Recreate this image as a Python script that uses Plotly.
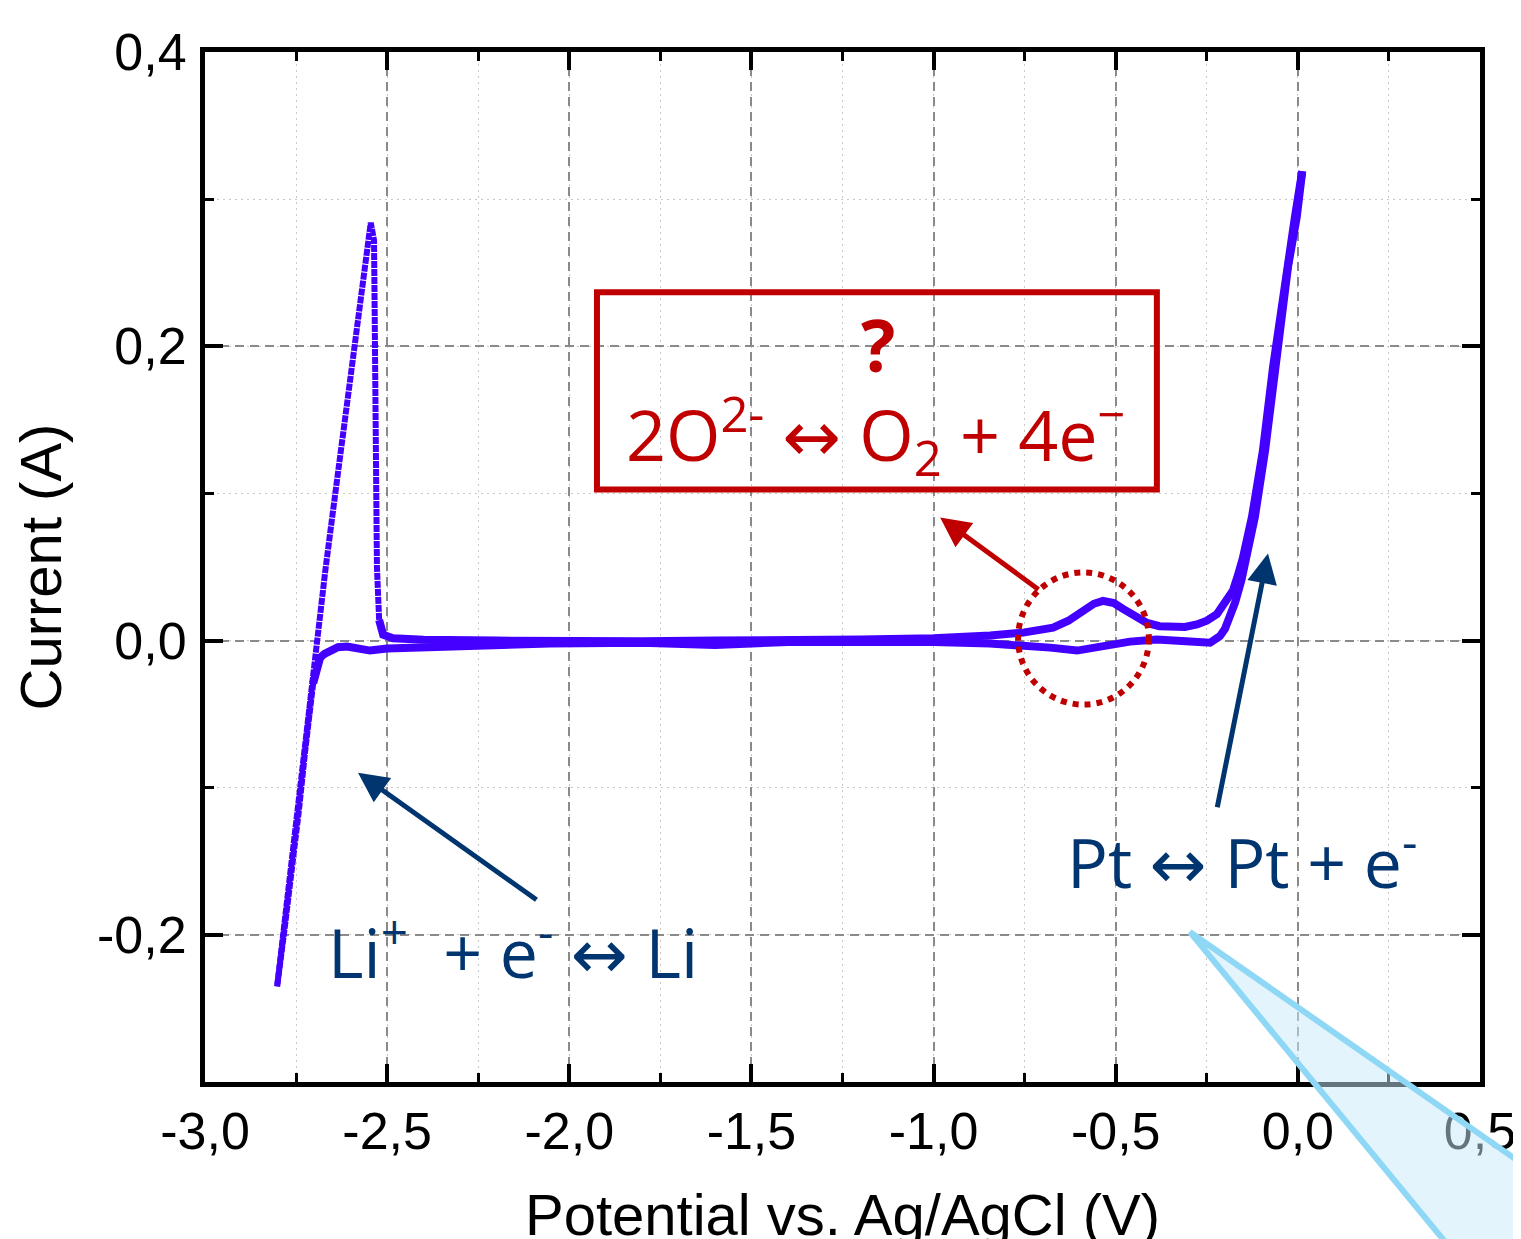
import plotly.graph_objects as go

# ---------------- data ----------------
# Li stripping ramp followed by the sharp current drop (anodic start)
strip_potential = [-2.802, -2.780, -2.758, -2.735, -2.712, -2.694, -2.670, -2.645, -2.620,
                   -2.595, -2.570, -2.555, -2.545, -2.536, -2.534, -2.532, -2.528, -2.522]
strip_current = [-0.235, -0.187, -0.139, -0.090, -0.040, 0.000, 0.047, 0.095, 0.143,
                 0.190, 0.238, 0.266, 0.284, 0.272, 0.200, 0.120, 0.050, 0.014]

# anodic (upper) branch towards positive potentials
anodic_potential = [-2.522, -2.511, -2.484, -2.400, -2.200, -2.000, -1.800, -1.600, -1.400,
                    -1.200, -1.000, -0.900, -0.845, -0.754, -0.672, -0.630, -0.590, -0.560,
                    -0.535, -0.505, -0.480, -0.445, -0.414, -0.380, -0.343, -0.310, -0.277,
                    -0.250, -0.222, -0.200, -0.178, -0.165, -0.151, -0.126, -0.096, -0.068,
                    -0.049, -0.030, -0.008, 0.012]
anodic_current = [0.014, 0.004, 0.0015, 0.0005, 0.0, -0.0005, -0.0005, 0.0, 0.0,
                  0.0008, 0.0015, 0.0025, 0.0034, 0.0054, 0.0088, 0.0135, 0.0200, 0.0250,
                  0.0270, 0.0255, 0.0215, 0.0160, 0.0120, 0.0098, 0.0088, 0.0092, 0.0110,
                  0.0135, 0.0180, 0.0250, 0.0340, 0.0440, 0.0560, 0.0840, 0.1290, 0.1860,
                  0.2200, 0.2540, 0.2880, 0.3190]

# cathodic (lower) branch back to negative potentials
cathodic_potential = [0.012, -0.003, -0.027, -0.044, -0.063, -0.090, -0.118, -0.137, -0.155,
                      -0.172, -0.186, -0.200, -0.214, -0.241, -0.296, -0.387, -0.461, -0.535,
                      -0.606, -0.680, -0.754, -0.845, -1.000, -1.200, -1.400, -1.600, -1.800,
                      -2.053, -2.418, -2.500, -2.547, -2.583, -2.610, -2.635, -2.657, -2.672,
                      -2.684, -2.693, -2.703]
cathodic_current = [0.3190, 0.288, 0.254, 0.220, 0.186, 0.129, 0.084, 0.061, 0.041,
                    0.026, 0.0156, 0.008, 0.003, -0.0015, -0.0007, 0.0007, -0.0007, -0.0034,
                    -0.0068, -0.0048, -0.0034, -0.0020, -0.0010, -0.0015, -0.0010, -0.0030, -0.0015,
                    -0.0020, -0.0040, -0.0054, -0.0068, -0.0054, -0.0040, -0.0045, -0.0068, -0.0090,
                    -0.0116, -0.0180, -0.0290]

# Li plating ramp at the negative end of the cathodic scan
plating_potential = [-2.703, -2.712, -2.725, -2.742, -2.760, -2.781, -2.802]
plating_current = [-0.0290, -0.0450, -0.0750, -0.1150, -0.1550, -0.1950, -0.2350]

x_tick_values = [-3.0, -2.5, -2.0, -1.5, -1.0, -0.5, 0.0, 0.5]
x_tick_labels = ["-3,0", "-2,5", "-2,0", "-1,5", "-1,0", "-0,5", "0,0", "0,5"]
y_tick_values = [-0.2, 0.0, 0.2, 0.4]
y_tick_labels = ["-0,2", "0,0", "0,2", "0,4"]

# ---------------- styling ----------------
CURVE = "#4400ff"
RED = "#c00000"
NAVY = "#00356f"
ARROW_FONT = "DejaVu Sans"

fig = go.Figure()
# dense (slow) branches – solid thick look
fig.add_trace(go.Scatter(
    x=anodic_potential, y=anodic_current, mode="lines",
    line=dict(color=CURVE, width=8), showlegend=False, hoverinfo="x+y"))
fig.add_trace(go.Scatter(
    x=cathodic_potential, y=cathodic_current, mode="lines",
    line=dict(color=CURVE, width=8), showlegend=False, hoverinfo="x+y"))
# sparse (fast) Li plating / stripping parts – thinner beaded look
fig.add_trace(go.Scatter(
    x=plating_potential, y=plating_current, mode="lines",
    line=dict(color=CURVE, width=6, dash="7px,1px"), showlegend=False, hoverinfo="x+y"))
fig.add_trace(go.Scatter(
    x=strip_potential, y=strip_current, mode="lines",
    line=dict(color=CURVE, width=6, dash="7px,1px"), showlegend=False, hoverinfo="x+y"))

axis_common = dict(
    showline=True, linewidth=5, linecolor="black", mirror="allticks",
    ticks="inside", ticklen=18, tickwidth=4, tickcolor="black",
    showgrid=True, gridcolor="#8a8a8a", gridwidth=1.5, griddash="9px,6px",
    zeroline=False, tickmode="array",
    tickfont=dict(family="Liberation Sans, Arial, sans-serif", size=52, color="black"),
    title_font=dict(family="Liberation Sans, Arial, sans-serif", size=58, color="black"),
)

fig.update_xaxes(
    **axis_common, range=[-3.0, 0.5], tickvals=x_tick_values, ticktext=x_tick_labels,
    ticklabelstandoff=0,
    minor=dict(dtick=0.25, tick0=0, ticks="inside", ticklen=9, tickwidth=3, tickcolor="black",
               showgrid=True, gridcolor="#c8c8c8", gridwidth=1, griddash="2px,4px"),
    title=dict(text="Potential vs. Ag/AgCl (V)", standoff=56),
)
fig.update_yaxes(
    **axis_common, range=[-0.3, 0.4], tickvals=y_tick_values, ticktext=y_tick_labels,
    ticklabelstandoff=3,
    minor=dict(dtick=0.1, tick0=0, ticks="inside", ticklen=9, tickwidth=3, tickcolor="black",
               showgrid=True, gridcolor="#c8c8c8", gridwidth=1, griddash="2px,4px"),
    title=dict(text="Current (A)", standoff=22),
)

shapes = [
    # red box around the unknown reaction
    dict(type="rect", xref="x", yref="y", x0=-1.924, x1=-0.387, y0=0.1027, y1=0.2367,
         line=dict(color=RED, width=6), fillcolor="rgba(0,0,0,0)", layer="above"),
    # dotted circle around the small peak
    dict(type="circle", xref="x", yref="y", x0=-0.768, x1=-0.409, y0=-0.0435, y1=0.0463,
         line=dict(color=RED, width=6, dash="6px,6px"), layer="above"),
    # light blue callout wedge at the lower right
    dict(type="path", xref="paper", yref="paper",
         path="M 0.7725 0.1456 L 1.0941 -0.132 L 1.1725 -0.2117 L 1.0102 -0.2117 Z",
         fillcolor="rgba(200,233,249,0.5)", line=dict(color="#8fd8f5", width=6), layer="above"),
]

TEXT_FONT = "Open Sans, Noto Sans, sans-serif"
ARR = f"<span style='font-family:{ARROW_FONT}'>↔</span>"
annotations = [
    dict(x=-1.1526, y=0.2013, xref="x", yref="y", text="<b>?</b>", showarrow=False,
         font=dict(family=TEXT_FONT, size=72, color=RED)),
    dict(x=-1.158, y=0.1394, xref="x", yref="y",
         text=f"2O<sup>2-</sup> {ARR} O<sub>2</sub> + 4e<sup>−</sup>", showarrow=False,
         font=dict(family=TEXT_FONT, size=70, color=RED)),
    dict(x=-2.1545, y=-0.2088, xref="x", yref="y",
         text=f"Li<sup>+</sup>  + e<sup>-</sup> {ARR} Li", showarrow=False,
         font=dict(family=TEXT_FONT, size=68, color=NAVY)),
    dict(x=-0.153, y=-0.148, xref="x", yref="y",
         text=f"Pt {ARR} Pt + e<sup>-</sup>", showarrow=False,
         font=dict(family=TEXT_FONT, size=68, color=NAVY)),
    # arrows
    dict(x=-0.982, y=0.0837, ax=-0.708, ay=0.034, xref="x", yref="y", axref="x", ayref="y",
         text="", showarrow=True, arrowhead=2, arrowsize=1.2, arrowwidth=5, arrowcolor=RED),
    dict(x=-2.580, y=-0.0898, ax=-2.086, ay=-0.1769, xref="x", yref="y", axref="x", ayref="y",
         text="", showarrow=True, arrowhead=2, arrowsize=1.2, arrowwidth=5, arrowcolor=NAVY),
    dict(x=-0.082, y=0.0592, ax=-0.222, ay=-0.1143, xref="x", yref="y", axref="x", ayref="y",
         text="", showarrow=True, arrowhead=2, arrowsize=1.2, arrowwidth=5, arrowcolor=NAVY),
]

fig.update_layout(
    width=1521, height=1239,
    margin=dict(l=197, r=49, t=44, b=165, autoexpand=False),
    paper_bgcolor="white", plot_bgcolor="white",
    shapes=shapes, annotations=annotations, showlegend=False,
)

fig.write_html("out.html")
